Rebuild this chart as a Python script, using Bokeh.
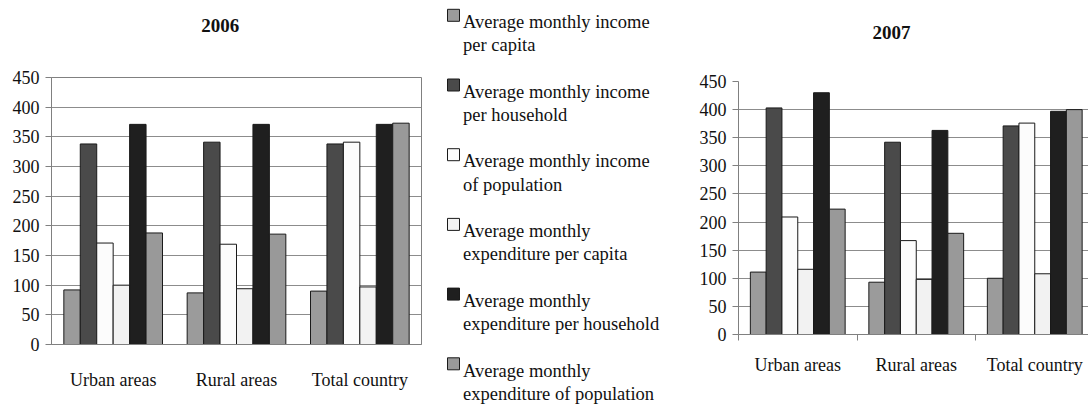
from bokeh.plotting import figure
from bokeh.layouts import row, column
from bokeh.models import Range1d, FixedTicker, ColumnDataSource
from bokeh.core.properties import value
from bokeh.embed import file_html
from bokeh.resources import INLINE

FONT = "Liberation Serif"

categories = ["Urban areas", "Rural areas", "Total country"]

series_labels = [
    ["Average monthly income", "per capita"],
    ["Average monthly income", "per household"],
    [" Average monthly income", "of population"],
    ["Average monthly", "expenditure per capita"],
    ["Average monthly", "expenditure per household"],
    ["Average monthly", "expenditure of population"],
]
series_colors = ["#9b9b9b", "#4a4a4a", "#fcfcfc", "#f2f2f2", "#1f1f1f", "#999999"]

# 2006 values (Urban, Rural, Total)
inc_pc_2006 = [92, 87, 90]
inc_hh_2006 = [338, 341, 338]
inc_pop_2006 = [171, 169, 341]
exp_pc_2006 = [100, 94, 97]
exp_hh_2006 = [371, 371, 371]
exp_pop_2006 = [188, 186, 373]

# 2007 values (Urban, Rural, Total)
inc_pc_2007 = [111, 93, 100]
inc_hh_2007 = [403, 342, 371]
inc_pop_2007 = [209, 167, 376]
exp_pc_2007 = [116, 98, 108]
exp_hh_2007 = [430, 363, 397]
exp_pop_2007 = [223, 180, 400]

y_ticks = [0, 50, 100, 150, 200, 250, 300, 350, 400, 450]
Y_MAX = 450

data_2006 = [inc_pc_2006, inc_hh_2006, inc_pop_2006, exp_pc_2006, exp_hh_2006, exp_pop_2006]
data_2007 = [inc_pc_2007, inc_hh_2007, inc_pop_2007, exp_pc_2007, exp_hh_2007, exp_pop_2007]

GRID = "#8c8c8c"
AXIS = "#808080"
H = 404
TITLE_H = 55


def blank(p):
    p.outline_line_color = None
    p.xgrid.grid_line_color = None
    p.ygrid.grid_line_color = None
    p.background_fill_color = "white"
    p.border_fill_color = "white"


def make_chart(title, data, width, border_left, border_right, frame_top, frame_h,
               cat_px, title_center_px, title_base_px, label_standoff,
               boundary_ticks, outline):
    frame_w = width - border_left - border_right
    x_end = frame_w / cat_px
    chart_h = H - TITLE_H
    border_top = frame_top - TITLE_H

    # title strip, same horizontal geometry as the chart below it
    t = figure(width=width, height=TITLE_H, output_backend="svg", toolbar_location=None,
               x_range=Range1d(0, x_end), y_range=Range1d(TITLE_H, 0),
               x_axis_location=None, y_axis_location=None,
               min_border_left=border_left, min_border_right=border_right,
               min_border_top=0, min_border_bottom=0)
    blank(t)
    t.text(x=[(title_center_px - border_left) / cat_px], y=[title_base_px], text=[title],
           text_align="center", text_baseline="alphabetic", text_font=value(FONT),
           text_font_size="19px", text_font_style="bold", text_color="#111111")

    p = figure(width=width, height=chart_h, output_backend="svg", toolbar_location=None,
               x_range=Range1d(0, x_end), y_range=Range1d(0, Y_MAX),
               min_border_left=border_left, min_border_right=border_right,
               min_border_top=border_top,
               min_border_bottom=chart_h - border_top - frame_h)
    p.background_fill_color = "white"
    p.border_fill_color = "white"
    p.outline_line_color = AXIS if outline else None

    n = len(data)
    w = 1.0 / (n + 1.5)
    for j, vals in enumerate(data):
        xs = [i + 0.5 + (j - (n - 1) / 2) * w for i in range(len(categories))]
        src = ColumnDataSource(dict(x=xs, top=vals))
        p.vbar(x="x", top="top", width=w, bottom=0, source=src,
               fill_color=series_colors[j], line_color="#1a1a1a", line_width=1)

    centers = [i + 0.5 for i in range(len(categories))]
    xt = FixedTicker(ticks=centers,
                     minor_ticks=list(range(len(categories) + 1)) if boundary_ticks else [])
    p.xaxis.ticker = xt
    p.xaxis.major_label_overrides = {c: lab for c, lab in zip(centers, categories)}
    p.xaxis.major_tick_line_color = None
    p.xaxis.major_tick_out = 0
    p.xaxis.major_tick_in = 0
    if boundary_ticks:
        p.xaxis.minor_tick_line_color = AXIS
        p.xaxis.minor_tick_out = 6
        p.xaxis.minor_tick_in = 0
    else:
        p.xaxis.minor_tick_line_color = None
    p.xaxis.major_label_standoff = label_standoff
    p.xaxis.axis_line_color = AXIS
    p.xaxis.major_label_text_font = FONT
    p.xaxis.major_label_text_font_size = "18px"
    p.xaxis.major_label_text_color = "#111111"

    p.yaxis.ticker = FixedTicker(ticks=y_ticks, minor_ticks=[])
    p.yaxis.major_tick_out = 6
    p.yaxis.major_tick_in = 0
    p.yaxis.major_tick_line_color = AXIS
    p.yaxis.minor_tick_line_color = None
    p.yaxis.axis_line_color = AXIS
    p.yaxis.major_label_standoff = 6
    p.yaxis.major_label_text_font = FONT
    p.yaxis.major_label_text_font_size = "18px"
    p.yaxis.major_label_text_color = "#111111"

    p.xgrid.grid_line_color = None
    p.ygrid.grid_line_color = GRID
    p.ygrid.grid_line_width = 1
    return column(t, p)


LEFT_W = 430
LEG_W = 260
RIGHT_W = 398

left = make_chart("2006", data_2006, width=LEFT_W, border_left=51, border_right=9,
                  frame_top=77, frame_h=267, cat_px=370 / 3,
                  title_center_px=219.7, title_base_px=25, label_standoff=25,
                  boundary_ticks=False, outline=True)

right = make_chart("2007", data_2007, width=RIGHT_W, border_left=48, border_right=0,
                   frame_top=81, frame_h=253, cat_px=118.5,
                   title_center_px=891 - (LEFT_W + LEG_W), title_base_px=32.3,
                   label_standoff=14, boundary_ticks=True, outline=False)

# Legend panel
leg = figure(width=LEG_W, height=H, output_backend="svg", toolbar_location=None,
             x_range=Range1d(0, LEG_W), y_range=Range1d(H, 0),
             x_axis_location=None, y_axis_location=None, min_border=0)
blank(leg)

item_step = 69.7
line_step = 23.3
first_base = 21.5
sq_x = 23
txt_x = 32.5
sq_ys, t1_ys, t2_ys, t1, t2 = [], [], [], [], []
for i, lines in enumerate(series_labels):
    base = first_base + item_step * i
    sq_ys.append(base - 6.7)
    t1_ys.append(base)
    t2_ys.append(base + line_step)
    t1.append(lines[0])
    t2.append(lines[1])

leg.rect(x=[sq_x] * len(series_labels), y=sq_ys, width=12, height=12,
         fill_color=series_colors, line_color="#1a1a1a", line_width=1)
leg.text(x=[txt_x] * len(t1), y=t1_ys, text=t1, text_font=value(FONT),
         text_font_size="18.5px", text_baseline="alphabetic", text_color="#111111")
leg.text(x=[txt_x] * len(t2), y=t2_ys, text=t2, text_font=value(FONT),
         text_font_size="18.5px", text_baseline="alphabetic", text_color="#111111")

layout = row(left, column(leg), right)
open("out.html", "w").write(file_html(layout, INLINE))
